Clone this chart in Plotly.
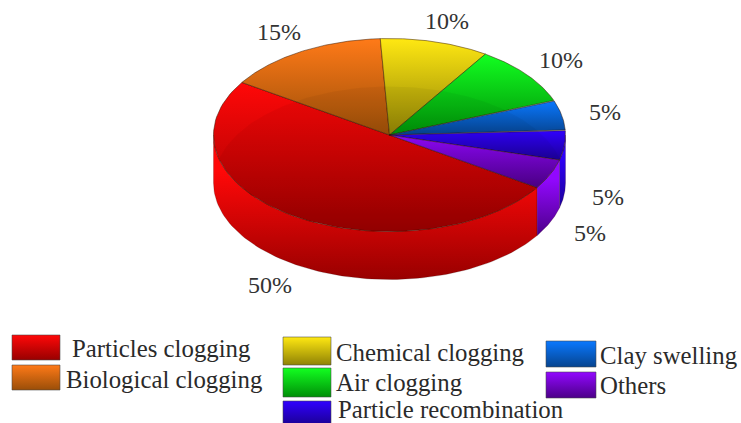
import numpy as np
import plotly.graph_objects as go

# ---- data ----
categories = ["Particles clogging", "Biological clogging", "Chemical clogging", "Air clogging",
              "Clay swelling", "Particle recombination", "Others"]
values = [50, 15, 10, 10, 5, 5, 5]
value_labels = ["50%", "15%", "10%", "10%", "5%", "5%", "5%"]
bright = ["#ff0808", "#ff7a18", "#ffe812", "#12ff20", "#0a78ff", "#3000ff", "#9208ff"]
dark = ["#980000", "#9a4e08", "#8f8205", "#008f08", "#06448f", "#1c0098", "#4c0088"]

# ---- geometry (pixels in the 741x423 page) ----
CX, CY, RX, RY, DEPTH = 389.5, 135.0, 176.0, 96.5, 48.0
START_ANGLE = -33.0
FONT = "Liberation Serif"
label_pos = [(270, 285), (279, 32), (447, 21), (561, 60), (605, 112), (608, 197), (590, 233)]
swatches = [(12, 60, 335, 360), (12, 60, 365, 390), (283, 331, 337, 365), (283, 331, 368, 397),
            (546, 596, 341, 367), (283, 331, 401, 424), (546, 596, 372, 398)]
legend_text = [(73, 348, 24.8), (67, 379, 24.8), (337, 352, 24.8), (337, 382, 24.8),
               (601, 355, 24.8), (339, 409, 24.8), (601, 385, 24.8)]


def rim(a, dy=0.0):
    r = np.radians(a)
    return CX + RX * np.cos(r), CY - RY * np.sin(r) + dy


def scale(c0, c1):
    return [[0, c0], [1, c1]]


fig = go.Figure()

# slice angles follow the values, clockwise from the start angle
edges = START_ANGLE - np.cumsum([0] + values) * 3.6
spans = [(edges[i], edges[i + 1]) for i in range(len(values))]

# outer wall: only the front half of the rim (angles in -180..0) can be seen
for i, (a0, a1) in enumerate(spans):
    for shift in (0, 360):
        hi, lo = min(a0 + shift, 0), max(a1 + shift, -180)
        if hi <= lo:
            continue
        t = np.linspace(hi, lo, 90)
        x, y = rim(t)
        x2, y2 = rim(t[::-1], DEPTH)
        top = float(np.min(y))
        bottom = float(np.max(y2))
        fig.add_trace(go.Scatter(
            x=np.r_[x, x2, x[0]], y=np.r_[y, y2, y[0]], mode="lines", fill="toself",
            line=dict(color="rgba(50,0,0,0.35)", width=0.6),
            fillgradient=dict(type="vertical", colorscale=scale(dark[i], bright[i]),
                              start=bottom, stop=top + 0.25 * (bottom - top)),
            hoverinfo="skip", showlegend=False))

# top face
for i, (a0, a1) in enumerate(spans):
    t = np.linspace(a0, a1, 90)
    x, y = rim(t)
    px, py = np.r_[CX, x, CX], np.r_[CY, y, CY]
    fig.add_trace(go.Scatter(
        x=px, y=py, mode="lines", fill="toself",
        line=dict(color="rgba(50,20,0,0.7)", width=0.7),
        fillgradient=dict(type="vertical", colorscale=scale(dark[i], bright[i]),
                          start=float(py.max()), stop=float(py.min())),
        hoverinfo="skip", showlegend=False))

# back wall glimpsed through the glassy top: overlap of the top face and the floor
half = np.degrees(np.arcsin(DEPTH / 2 / RY))
x1, y1 = rim(np.linspace(180 + half, 360 - half, 120))
x2, y2 = rim(np.linspace(half, 180 - half, 120), DEPTH)
fig.add_trace(go.Scatter(
    x=np.r_[x1, x2, x1[0]], y=np.r_[y1, y2, y1[0]], mode="lines", fill="toself",
    line=dict(width=0), fillcolor="rgba(0,0,0,0.045)", hoverinfo="skip", showlegend=False))

# legend swatches
for i, (x0, x1_, y0, y1_) in enumerate(swatches):
    fig.add_trace(go.Scatter(
        x=[x0, x1_, x1_, x0, x0], y=[y0, y0, y1_, y1_, y0], mode="lines", fill="toself",
        line=dict(color="rgba(70,70,70,0.55)", width=1),
        fillgradient=dict(type="vertical", colorscale=scale(dark[i], bright[i]),
                          start=y1_, stop=y0),
        name=categories[i], hoverinfo="skip", showlegend=False))

# texts
for lab, (x, y) in zip(value_labels, label_pos):
    fig.add_annotation(x=x, y=y, text=lab, showarrow=False, xanchor="center", yanchor="middle",
                       borderpad=0, borderwidth=0,
                       font=dict(family=FONT, size=24, color="#333333"))
for cat, (x, y, s) in zip(categories, legend_text):
    fig.add_annotation(x=x, y=y, text=cat, showarrow=False, xanchor="left", yanchor="middle",
                       borderpad=0, borderwidth=0, xshift=-1,
                       font=dict(family=FONT, size=s, color="#2a2a2a"))

fig.update_layout(
    width=741, height=423, margin=dict(l=0, r=0, t=0, b=0),
    paper_bgcolor="white", plot_bgcolor="white", showlegend=False,
    xaxis=dict(range=[0, 741], visible=False, fixedrange=True),
    yaxis=dict(range=[423, 0], visible=False, fixedrange=True),
)
fig.write_html("out.html", config={"displayModeBar": False},
               post_script="document.body.style.margin='0';document.body.style.overflow='hidden';")
